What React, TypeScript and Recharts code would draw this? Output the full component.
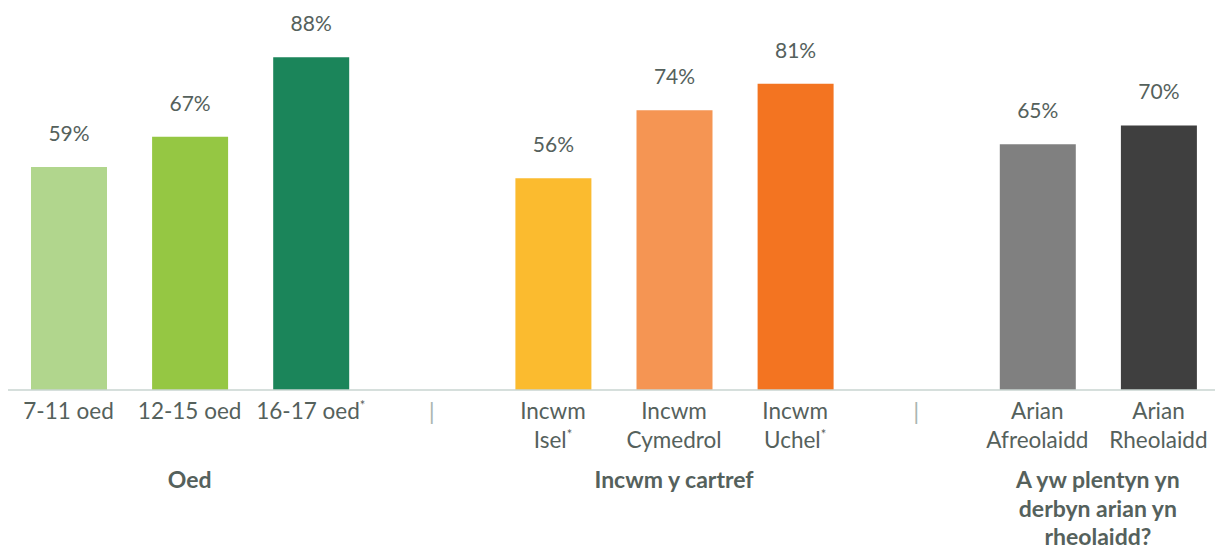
import React from 'react';
import { BarChart, Bar, XAxis, YAxis, Cell, LabelList } from 'recharts';

const categories = [
  '7-11 oed',
  '12-15 oed',
  '16-17 oed*',
  '|',
  'Incwm\nIsel*',
  'Incwm\nCymedrol',
  'Incwm\nUchel*',
  '|',
  'Arian\nAfreolaidd',
  'Arian\nRheolaidd',
];
const values = [59, 67, 88, null, 56, 74, 81, null, 65, 70];
const barColors = [
  '#b1d68d',
  '#95c743',
  '#1b855a',
  null,
  '#fbbb2f',
  '#f59553',
  '#f37421',
  null,
  '#808080',
  '#3f3f3f',
];
const groupLabels = ['Oed', 'Incwm y cartref', 'A yw plentyn yn\nderbyn arian yn\nrheolaidd?'];
const groupFirst = [0, 4, 8];
const groupLast = [2, 6, 9];

const data = categories.map((name, i) => ({ name, value: values[i] }));

const TEXT = '#55615c';
const FONT = 'Lato, "Open Sans", sans-serif';

const CategoryTick = (props: any) => {
  const { x, y, payload, index } = props;
  const label: string = payload.value;
  const half = payload.offset ?? 60;
  const g = groupFirst.indexOf(index);

  return (
    <g>
      {label === '|' ? (
        <text x={x} y={y + 30} textAnchor="middle" fontSize={24} fill="#a9b5b1" fontFamily={FONT}>
          |
        </text>
      ) : (
        label.split('\n').map((line, li) => {
          const star = line.endsWith('*');
          const txt = star ? line.slice(0, -1) : line;
          return (
            <text
              key={li}
              x={x}
              y={y + 29 + li * 29}
              textAnchor="middle"
              fontSize={22.5}
              fill={TEXT}
              fontFamily={FONT}
            >
              {txt}
              {star && (
                <tspan fontSize={13} dy={-9}>
                  *
                </tspan>
              )}
            </text>
          );
        })
      )}
      {g >= 0 &&
        groupLabels[g].split('\n').map((line, li) => (
          <text
            key={'g' + li}
            x={x + (groupLast[g] - groupFirst[g]) * half}
            y={y + 98 + li * 28.5}
            textAnchor="middle"
            fontSize={23}
            fontWeight={700}
            fill={TEXT}
            fontFamily={FONT}
          >
            {line}
          </text>
        ))}
    </g>
  );
};

const App: React.FC = () => (
  <div style={{ position: 'absolute', left: 0, top: 0 }}>
    <BarChart
      width={1219}
      height={549}
      data={data}
      margin={{ left: 8, right: 0, top: 12, bottom: 9 }}
      barSize={76}
    >
      <XAxis
        dataKey="name"
        interval={0}
        height={150}
        tickLine={false}
        tickSize={0}
        tickMargin={0}
        axisLine={{ stroke: '#c8d5d1', strokeWidth: 1.5 }}
        tick={<CategoryTick />}
      />
      <YAxis hide domain={[0, 100]} />
      <Bar dataKey="value" isAnimationActive={false}>
        {data.map((_, i) => (
          <Cell key={i} fill={barColors[i] ?? 'transparent'} />
        ))}
        <LabelList
          dataKey="value"
          position="top"
          offset={26}
          fill={TEXT}
          fontSize={21}
          fontFamily={FONT}
          formatter={(v: any) => (v == null ? '' : `${v}%`)}
        />
      </Bar>
    </BarChart>
  </div>
);

export default App;
